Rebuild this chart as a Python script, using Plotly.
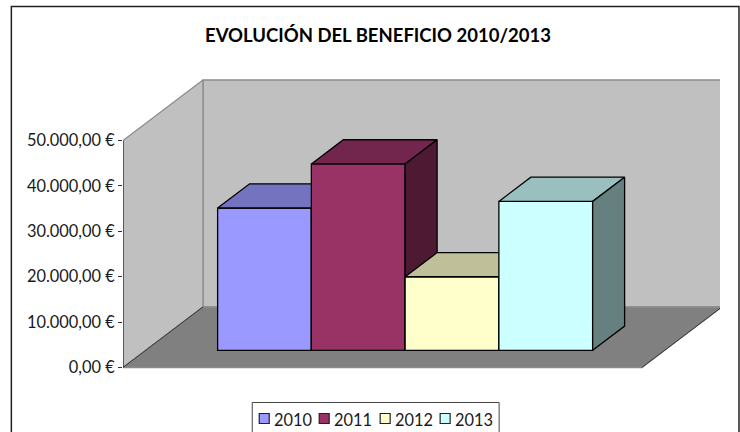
import plotly.graph_objects as go

# --- data ---
years = ["2010", "2011", "2012", "2013"]
beneficio = [31350, 41050, 16200, 32800]
tick_values = [0, 10000, 20000, 30000, 40000, 50000]
tick_labels = ["0,00 €", "10.000,00 €", "20.000,00 €", "30.000,00 €", "40.000,00 €", "50.000,00 €"]
front_colors = ["#9999FF", "#993366", "#FFFFCC", "#CCFFFF"]
top_colors = ["#7373BF", "#73264D", "#BFBF99", "#99BFBF"]
side_colors = ["#4D4D80", "#4D1933", "#808066", "#668080"]
title_text = "EVOLUCIÓN DEL BENEFICIO 2010/2013"

# --- oblique projection settings ---
W, H = 740, 432
PL, PR, PT, PB = 122.7, 720.0, 70.0, 372.0
BAR_PX = 93.8
PX_PER_EUR = 227.0 / 50000
ZERO_PX = 367.5
DX = 80.0 / BAR_PX            # x shift of the full floor depth, in bar widths
DY = 60.5 / PX_PER_EUR        # y shift of the full floor depth, in euros
GAP = 0.767                   # side gap, in bar widths
D0, D1 = 0.284, 0.684         # bar depth range
N = len(years)
FLOOR_W = N + 2 * GAP
Y_MAX = 50000
x_range = [0, (PR - PL) / BAR_PX]
y_range = [(ZERO_PX - PB) / PX_PER_EUR, (ZERO_PX - PT) / PX_PER_EUR]


def proj(x, d, v):
    return x + d * DX, v + d * DY


def poly(points, fill, line="#808080", width=1, ax=""):
    pts = [proj(*p) for p in points]
    pts.append(pts[0])
    return go.Scatter(
        x=[p[0] for p in pts], y=[p[1] for p in pts], mode="lines", fill="toself",
        fillcolor=fill, line=dict(color=line, width=width), showlegend=False,
        hoverinfo="skip", xaxis="x" + ax, yaxis="y" + ax,
    )


def edge(points, color, width=1):
    pts = [proj(*p) for p in points]
    return go.Scatter(
        x=[p[0] for p in pts], y=[p[1] for p in pts], mode="lines",
        line=dict(color=color, width=width), showlegend=False, hoverinfo="skip",
    )


fig = go.Figure()
# walls and floor
fig.add_trace(poly([(0, 1, 0), (FLOOR_W, 1, 0), (FLOOR_W, 1, Y_MAX), (0, 1, Y_MAX)], "#C0C0C0", "#8C8C8C", 1.3))
fig.add_trace(poly([(0, 0, 0), (0, 1, 0), (0, 1, Y_MAX), (0, 0, Y_MAX)], "#C0C0C0", "#8C8C8C", 1.3))
fig.add_trace(poly([(0, 0, 0), (FLOOR_W, 0, 0), (FLOOR_W, 1, 0), (0, 1, 0)], "#808080", "#8C8C8C", 1.3))
fig.add_trace(edge([(0, 0, 0), (0, 1, 0)], "#333333"))
fig.add_trace(edge([(FLOOR_W, 0, 0), (FLOOR_W, 1, 0)], "#333333"))
fig.add_trace(edge([(0, 0, 0), (0, 0, Y_MAX)], "#333333", 1.3))

# bars, each on its own overlay so that they stack left to right
layout_axes = {}
for i, (year, val) in enumerate(zip(years, beneficio)):
    ax = str(i + 2)
    x0, x1 = GAP + i, GAP + i + 1
    cx, base = proj((x0 + x1) / 2, D0, 0)
    fig.add_trace(go.Bar(
        x=[cx], y=[val], base=[base], width=[1], name=year, showlegend=False,
        marker=dict(color=front_colors[i], line=dict(color="#000000", width=1.3)),
        xaxis="x" + ax, yaxis="y" + ax,
    ))
    fig.add_trace(poly([(x0, D0, val), (x1, D0, val), (x1, D1, val), (x0, D1, val)],
                       top_colors[i], "#000000", 1.3, ax))
    fig.add_trace(poly([(x1, D0, 0), (x1, D1, 0), (x1, D1, val), (x1, D0, val)],
                       side_colors[i], "#000000", 1.3, ax))
    layout_axes["xaxis" + ax] = dict(overlaying="x", range=x_range, visible=False, fixedrange=True)
    layout_axes["yaxis" + ax] = dict(overlaying="y", range=y_range, visible=False, fixedrange=True)

plot_w, plot_h = PR - PL, PB - PT
fx = lambda px: (px - PL) / plot_w
fy = lambda py: (PB - py) / plot_h

# frame and legend drawn in page pixels
shapes = [
    dict(type="rect", xref="paper", yref="paper", x0=fx(11), x1=fx(739), y0=fy(460), y1=fy(6.5),
         line=dict(color="#222222", width=1.5), layer="above"),
    dict(type="rect", xref="paper", yref="paper", x0=fx(252), x1=fx(499), y0=fy(460), y1=fy(402.5),
         line=dict(color="#444444", width=1), fillcolor="white", layer="above"),
]
annotations = []
swatch_px = [259, 319, 380, 440]
for sx, year, col in zip(swatch_px, years, front_colors):
    shapes.append(dict(type="rect", xref="paper", yref="paper", x0=fx(sx), x1=fx(sx + 10),
                       y0=fy(423.5), y1=fy(413.5), fillcolor=col,
                       line=dict(color="#222222", width=1.2), layer="above"))
    annotations.append(dict(text=year, xref="paper", yref="paper", x=fx(sx + 13), y=fy(419),
                            xanchor="left", yanchor="middle", showarrow=False,
                            font=dict(family="Lato", size=16.4, color="#1a1a1a")))

fig.update_layout(
    width=W, height=H, autosize=False,
    paper_bgcolor="white", plot_bgcolor="white",
    margin=dict(l=PL, r=W - PR, t=PT, b=H - PB, pad=0, autoexpand=False),
    font=dict(family="Lato", size=16.4, color="#1a1a1a"),
    barmode="overlay", showlegend=False,
    title=dict(text=title_text, x=378 / W, xref="container", xanchor="center",
               y=1 - 36 / H, yref="container", yanchor="middle",
               font=dict(family="Lato", size=18.5, color="#000000", weight="bold")),
    xaxis=dict(range=x_range, visible=False, fixedrange=True),
    yaxis=dict(range=y_range, tickmode="array", tickvals=tick_values, ticktext=tick_labels,
               ticks="outside", ticklen=4, tickcolor="#333333", showgrid=False,
               zeroline=False, showline=False, fixedrange=True),
    shapes=shapes, annotations=annotations,
    **layout_axes,
)
fig.write_html("out.html", config=dict(displayModeBar=False),
               post_script="document.body.style.margin='0';")
